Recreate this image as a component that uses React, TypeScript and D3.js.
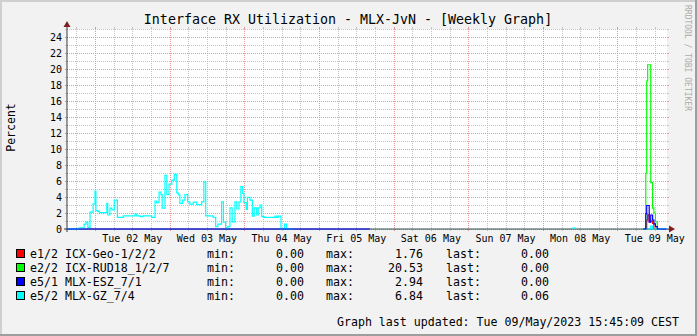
import React from 'react';
import * as d3 from 'd3';

const W = 697;
const H = 336;

const title = 'Interface RX Utilization - MLX-JvN - [Weekly Graph]';
const yAxisTitle = 'Percent';
const watermark = 'RRDTOOL / TOBI OETIKER';
const footer = 'Graph last updated: Tue 09/May/2023 15:45:09 CEST';

// time in hours since Mon 01 May 2023 00:00
const timeStart = 15.0;
const timeEnd = 207.92;
const baseDateUtc = Date.UTC(2023, 4, 1);

const yMax = 25;
const yLabelTicks = [0, 2, 4, 6, 8, 10, 12, 14, 16, 18, 20, 22, 24];

const seriesNames = ['e1/2 ICX-Geo-1/2/2', 'e2/2 ICX-RUD18_1/2/7', 'e5/1 MLX-ESZ_7/1', 'e5/2 MLX-GZ_7/4'];
const seriesColors = ['#FF0000', '#00FF00', '#0000FF', '#00FFFF'];
const minValues = ['0.00', '0.00', '0.00', '0.00'];
const maxValues = ['1.76', '20.53', '2.94', '6.84'];
const lastValues = ['0.00', '0.00', '0.00', '0.06'];

// value holds from its hour until the next hour; null = unknown
const redHours = [200.3, 201.4, 201.7, 202.2, 202.7, 203.3, 203.7, 204.2];
const redValues = [0, 1.1, 1.76, 0.9, 1.0, 0.7, 0, null];

const greenHours = [200.3, 201.1, 201.4, 201.7, 202.7, 203.3, 203.7, 204.2, 204.8, 205.2];
const greenValues = [0, 7.0, 18.5, 20.53, 5.8, 2.6, 2.0, 0.9, 0, null];

const blueHours = [15.0, 112.4, 200.3, 201.1, 201.4, 202.2, 202.7, 203.3, 203.7, 204.2, 204.8, 207.75];
const blueValues = [0, null, 0, 1.9, 2.94, 0.85, 1.75, 1.1, 0.65, 0.3, 0, null];

const cyanHours = [
  15.0, 18.9, 20.5, 21.1, 21.7, 22.4, 23.4, 24.0, 24.3, 24.9, 25.4, 27.8, 28.1, 28.8, 29.4, 30.2, 31.2, 33.1,
  36.9, 37.4, 38.5, 39.4, 42.2, 43.3, 43.8, 44.6, 45.2, 45.6, 46.5, 47.1, 47.8, 48.7, 49.5, 50.3, 50.8, 51.3,
  52.2, 52.9, 53.8, 54.5, 55.6, 56.7, 58.3, 59.0, 59.6, 62.0, 62.8, 63.5, 64.7, 65.3, 66.0, 66.7, 67.4, 68.1,
  69.0, 69.6, 70.3, 70.9, 71.5, 71.9, 72.6, 73.0, 73.8, 74.6, 75.2, 76.0, 76.5, 77.1, 77.6, 78.3, 81.9, 82.4,
  82.9, 83.8, 84.9, 85.6, 88.0, 177.4, 178.7, 200.3, 202.7, 203.3, 206.6, 207.75,
];
const cyanValues = [
  0, 0.15, 0.6, 0.85, 0.2, 2.1, 3.1, 4.75, 2.3, 2.2, 2.05, 3.2, 1.75, 2.6, 2.4, 3.6, 1.45, 1.65,
  1.85, 1.65, 1.55, 1.65, 1.45, 3.5, 3.3, 4.6, 4.3, 2.6, 6.7, 4.3, 5.6, 6.1, 6.84, 4.5, 4.25, 3.2,
  3.6, 4.3, 3.4, 3.1, 3.35, 3.05, 3.4, 5.9, 1.65, 1.45, 0.3, 0.6, 3.4, 0.85, 0.1, 0.3, 2.65, 0.9,
  3.4, 2.5, 3.4, 5.3, 4.45, 3.3, 2.45, 3.95, 3.6, 1.6, 2.65, 1.75, 2.65, 3.0, 1.55, 1.45, 1.6, 1.45,
  1.6, 0, 0.6, 0, null, 0.12, null, 0, 0.35, 0, 0.06, null,
];

const X0 = 67;
const X1 = 667;
const Y0 = 229;
const Y1 = 29;

const MONO = '"DejaVu Sans Mono", "Liberation Mono", monospace';

function buildPoints(hours: number[], values: (number | null)[]) {
  const pts: ([number, number] | null)[] = [];
  let prev: number | null = null;
  for (let i = 0; i < hours.length; i++) {
    const v = values[i];
    if (v === null || v === undefined) {
      if (prev !== null) pts.push([hours[i], prev]);
      pts.push(null);
      prev = null;
    } else {
      pts.push([hours[i], v]);
      prev = v;
    }
  }
  return pts;
}

export default function App() {
  const x = d3.scaleLinear().domain([timeStart, timeEnd]).range([X0, X1]);
  const y = d3.scaleLinear().domain([0, yMax]).range([Y0, Y1]);
  const fmt = d3.utcFormat('%a %d %b');

  const line = d3
    .line<[number, number] | null>()
    .defined((d) => d !== null)
    .x((d) => x((d as [number, number])[0]))
    .y((d) => y((d as [number, number])[1]))
    .curve(d3.curveStepAfter);

  const series = [
    { hours: redHours, values: redValues, color: seriesColors[0] },
    { hours: greenHours, values: greenValues, color: seriesColors[1] },
    { hours: cyanHours, values: cyanValues, color: seriesColors[3] },
    { hours: blueHours, values: blueValues, color: seriesColors[2] },
  ];

  const vGrid: { h: number; major: boolean }[] = [];
  for (let h = Math.ceil(timeStart / 6) * 6; h <= timeEnd; h += 6) {
    vGrid.push({ h, major: h % 24 === 0 });
  }
  const hGrid: { v: number; major: boolean }[] = [];
  for (let v = 0; v <= yMax; v++) {
    hGrid.push({ v, major: v % 2 === 0 && v <= 24 });
  }
  const dayLabels: { h: number; text: string }[] = [];
  for (let d = 0; d < 10; d++) {
    const noon = d * 24 + 12;
    if (noon > timeStart && noon < timeEnd) {
      dayLabels.push({ h: noon, text: fmt(new Date(baseDateUtc + noon * 3600e3)) });
    }
  }

  const minorCol = '#c4c4c4';
  const majorCol = '#e99494';

  return (
    <svg
      width={W}
      height={H}
      style={{ position: 'absolute', left: 0, top: 0, display: 'block' }}
      fontFamily={MONO}
    >
      <rect x={0} y={0} width={W} height={H} fill="#F2F2F2" />
      <rect x={0} y={0} width={W} height={2} fill="#CFCFCF" />
      <rect x={0} y={0} width={2} height={H} fill="#CFCFCF" />
      <rect x={W - 2} y={0} width={2} height={H} fill="#9E9E9E" />
      <rect x={0} y={H - 2} width={W} height={2} fill="#9E9E9E" />

      <rect x={X0} y={Y1} width={X1 - X0} height={Y0 - Y1} fill="#FFFFFF" />

      {/* grid */}
      <g shapeRendering="crispEdges">
        {hGrid.filter((g) => !g.major).map((g) => (
          <g key={'hm' + g.v}>
            <line x1={X0} x2={X1} y1={y(g.v) + 0.5} y2={y(g.v) + 0.5} stroke={minorCol} strokeDasharray="1,1" />
            <line x1={X0 - 2} x2={X0} y1={y(g.v) + 0.5} y2={y(g.v) + 0.5} stroke={minorCol} />
            <line x1={X1} x2={X1 + 2} y1={y(g.v) + 0.5} y2={y(g.v) + 0.5} stroke={minorCol} />
          </g>
        ))}
        {vGrid.filter((g) => !g.major).map((g) => (
          <g key={'vm' + g.h}>
            <line x1={Math.round(x(g.h)) + 0.5} x2={Math.round(x(g.h)) + 0.5} y1={Y1} y2={Y0} stroke={minorCol} strokeDasharray="1,1" />
            <line x1={Math.round(x(g.h)) + 0.5} x2={Math.round(x(g.h)) + 0.5} y1={Y0} y2={Y0 + 2} stroke={minorCol} />
            <line x1={Math.round(x(g.h)) + 0.5} x2={Math.round(x(g.h)) + 0.5} y1={Y1 - 2} y2={Y1} stroke={minorCol} />
          </g>
        ))}
        {hGrid.filter((g) => g.major).map((g) => (
          <g key={'hM' + g.v}>
            <line x1={X0} x2={X1} y1={y(g.v) + 0.5} y2={y(g.v) + 0.5} stroke={majorCol} strokeDasharray="1,1" />
            <line x1={X0 - 2} x2={X0} y1={y(g.v) + 0.5} y2={y(g.v) + 0.5} stroke={majorCol} />
            <line x1={X1} x2={X1 + 2} y1={y(g.v) + 0.5} y2={y(g.v) + 0.5} stroke={majorCol} />
          </g>
        ))}
        {vGrid.filter((g) => g.major).map((g) => (
          <g key={'vM' + g.h}>
            <line x1={Math.round(x(g.h)) + 0.5} x2={Math.round(x(g.h)) + 0.5} y1={Y1} y2={Y0} stroke={majorCol} strokeDasharray="1,1" />
            <line x1={Math.round(x(g.h)) + 0.5} x2={Math.round(x(g.h)) + 0.5} y1={Y0} y2={Y0 + 2} stroke={majorCol} />
            <line x1={Math.round(x(g.h)) + 0.5} x2={Math.round(x(g.h)) + 0.5} y1={Y1 - 2} y2={Y1} stroke={majorCol} />
          </g>
        ))}
      </g>

      {/* axes */}
      <line x1={X0 - 3} x2={X1 + 2} y1={Y0} y2={Y0} stroke="#2C4D4D" strokeWidth={1} />
      <line x1={X0} x2={X0} y1={Y0 + 3} y2={Y1 - 2} stroke="#3a3a3a" strokeWidth={1} />
      <polygon points={`${X0 - 3.5},${Y1 - 2} ${X0 + 3.5},${Y1 - 2} ${X0},${Y1 - 8}`} fill="#801F1F" />
      <polygon points={`${X1 + 2},${Y0 - 3.5} ${X1 + 2},${Y0 + 3.5} ${X1 + 8},${Y0}`} fill="#801F1F" />

      {/* series */}
      {series.map((s, i) => (
        <path
          key={i}
          d={line(buildPoints(s.hours, s.values)) || ''}
          fill="none"
          stroke={s.color}
          strokeWidth={1.2}
        />
      ))}

      {/* y labels */}
      {yLabelTicks.map((v) => (
        <text key={'yl' + v} x={62} y={y(v) + 3.5} textAnchor="end" fontSize={10} fill="#000">
          {v}
        </text>
      ))}
      {/* x labels */}
      {dayLabels.map((d) => (
        <text key={'xl' + d.h} x={x(d.h)} y={241.5} textAnchor="middle" fontSize={10} fill="#000">
          {d.text}
        </text>
      ))}

      <text x={348} y={24} textAnchor="middle" fontSize={13.3} fill="#000">
        {title}
      </text>
      <text transform="translate(15,127.5) rotate(-90)" textAnchor="middle" fontSize={11.5} fill="#000">
        {yAxisTitle}
      </text>
      <text transform="translate(685,5) rotate(90)" fontSize={8} fill="#ABABAB">
        {watermark}
      </text>

      {/* legend */}
      {seriesNames.map((name, i) => {
        const top = 249.5 + i * 14;
        const base = 258 + i * 14;
        return (
          <g key={'lg' + i} fontSize={11.6} fill="#000">
            <rect x={16.5} y={top} width={8} height={8} fill={seriesColors[i]} stroke="#000" strokeWidth={1} />
            <text x={30} y={base}>{name}</text>
            <text x={207} y={base}>min:</text>
            <text x={304} y={base} textAnchor="end">{minValues[i]}</text>
            <text x={326} y={base}>max:</text>
            <text x={423} y={base} textAnchor="end">{maxValues[i]}</text>
            <text x={446} y={base}>last:</text>
            <text x={549} y={base} textAnchor="end">{lastValues[i]}</text>
          </g>
        );
      })}

      <text x={679} y={326} textAnchor="end" fontSize={11.6} fill="#000">
        {footer}
      </text>
    </svg>
  );
}
